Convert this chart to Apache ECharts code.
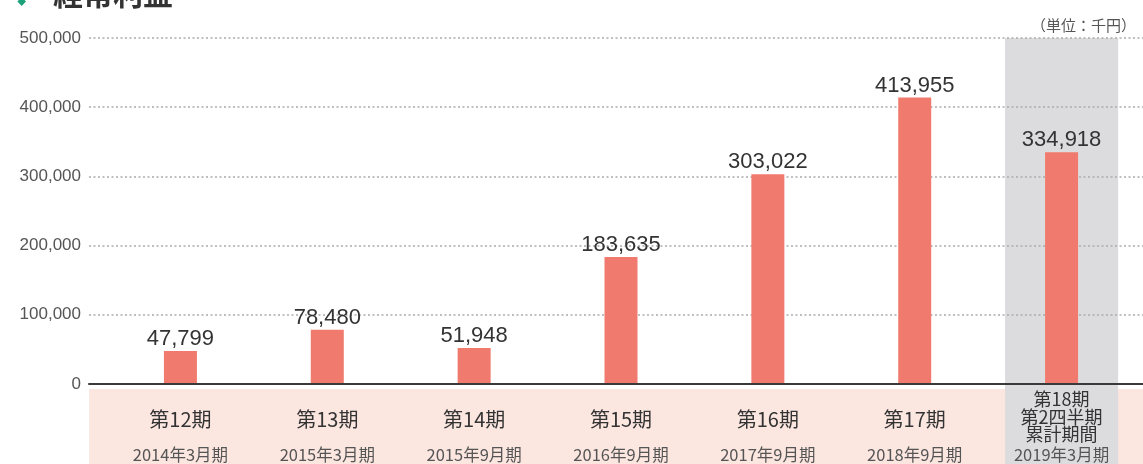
<!DOCTYPE html>
<html>
<head>
<meta charset="utf-8">
<script src="https://cdn.jsdelivr.net/npm/echarts@6/dist/echarts.min.js"></script>
<style>
html,body{margin:0;padding:0;background:#fff;}
#chart{width:1143px;height:464px;}
</style>
</head>
<body>
<div id="chart"></div>
<script>
const titleText = '経常利益';
const unitText = '（単位：千円）';
const categories = ['第12期', '第13期', '第14期', '第15期', '第16期', '第17期', '第18期\n第2四半期\n累計期間'];
const periods = ['2014年3月期', '2015年3月期', '2015年9月期', '2016年9月期', '2017年9月期', '2018年9月期', '2019年3月期'];
const values = [47799, 78480, 51948, 183635, 303022, 413955, 334918];
const highlight = [null, null, null, null, null, null, 1];
const yMin = 0, yMax = 500000, yInterval = 100000;

const CJK = '"Noto Sans CJK JP", "Noto Sans", sans-serif';
const NUM = '"Liberation Sans", Arial, sans-serif';

const chart = echarts.init(document.getElementById('chart'));
chart.setOption({
  animation: false,
  backgroundColor: '#fff',
  title: [
    { text: titleText, left: 48, top: -26,
      textStyle: { fontFamily: CJK, fontSize: 30, fontWeight: 'bold', color: '#333' } },
    { text: unitText, right: 2, top: 13,
      textStyle: { fontFamily: CJK, fontSize: 15, fontWeight: 'normal', color: '#555' } }
  ],
  graphic: [
    { type: 'polygon', shape: { points: [[21.7, -3], [26, 1.5], [21.7, 6], [17.4, 1.5]] },
      style: { fill: '#1ba27a' } }
  ],
  grid: [
    { left: 89, right: 0, top: 38, height: 346 },
    { left: 89, right: 0, top: 389, bottom: 0, show: true, backgroundColor: '#fbe6e0', borderWidth: 0 },
    { left: 107, width: 1028, top: 38, bottom: 0 },
    { left: 107, width: 1028, top: 38, height: 346 }
  ],
  xAxis: [
    { gridIndex: 0, type: 'value', min: 0, max: 1, z: 4,
      axisLine: { show: true, lineStyle: { color: '#3a3a3a', width: 2 } },
      axisTick: { show: false }, axisLabel: { show: false }, splitLine: { show: false } },
    { gridIndex: 1, type: 'value', show: false },
    { gridIndex: 2, type: 'category', data: categories, show: false },
    { gridIndex: 3, type: 'category', data: categories, z: 5,
      axisLine: { show: false }, axisTick: { show: false },
      axisLabel: {
        margin: 7, interval: 0,
        formatter: function (v, i) {
          if (v.indexOf('\n') >= 0) {
            return '{c|' + v + '}\n{d|' + periods[i] + '}';
          }
          return '{a|' + v + '}\n{b|' + periods[i] + '}';
        },
        rich: {
          a: { fontFamily: CJK, fontSize: 20, color: '#333', lineHeight: 57 },
          b: { fontFamily: CJK, fontSize: 16.5, color: '#555', lineHeight: 14 },
          c: { fontFamily: CJK, fontSize: 18, color: '#333', lineHeight: 17.3 },
          d: { fontFamily: CJK, fontSize: 16.5, color: '#555', lineHeight: 24 }
        }
      } }
  ],
  yAxis: [
    { gridIndex: 0, type: 'value', min: yMin, max: yMax, interval: yInterval, z: 2,
      axisLine: { show: false }, axisTick: { show: false },
      axisLabel: { margin: 8, fontFamily: NUM, fontSize: 17, color: '#555',
        formatter: function (v) { return v.toLocaleString('en-US'); } },
      splitLine: { show: true, lineStyle: { color: '#aaa', width: 1.5, type: [2, 2.5] } } },
    { gridIndex: 1, type: 'value', show: false },
    { gridIndex: 2, type: 'value', min: 0, max: 1, show: false },
    { gridIndex: 3, type: 'value', min: yMin, max: yMax, show: false }
  ],
  series: [
    { type: 'bar', xAxisIndex: 2, yAxisIndex: 2, data: highlight, barWidth: '77%', z: 1, silent: true,
      itemStyle: { color: '#dcdcde' } },
    { type: 'bar', xAxisIndex: 3, yAxisIndex: 3, data: values, barWidth: 33, z: 3,
      itemStyle: { color: '#f07a6d' },
      label: { show: true, position: 'top', distance: 1, fontFamily: NUM, fontSize: 22, color: '#333',
        formatter: function (p) { return p.value.toLocaleString('en-US'); } } }
  ]
});
</script>
</body>
</html>
